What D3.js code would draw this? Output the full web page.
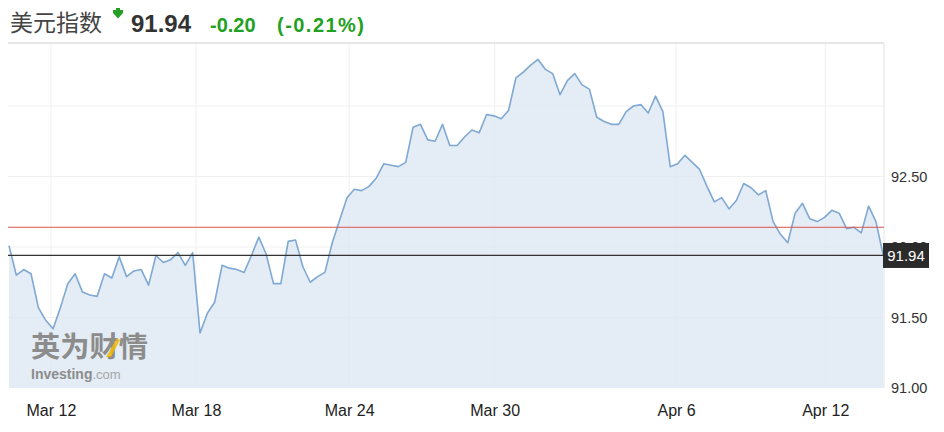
<!DOCTYPE html>
<html><head><meta charset="utf-8">
<script src="https://cdn.jsdelivr.net/npm/d3@7"></script>
<style>
html,body{margin:0;padding:0;background:#fff;}
svg{display:block;font-family:"Liberation Sans",Arial,sans-serif;}
</style></head>
<body><svg id="c" width="944" height="432"></svg>
<script>
// ---- data ----
const title = "美元指数";
const lastValue = 91.94;
const prevClose = 92.14;
const change = "-0.20";
const changePct = "(-0.21%)";
const values = [
92.01,91.80,91.84,91.81,91.57,91.48,91.42,91.57,91.74,91.81,
91.68,91.66,91.65,91.81,91.78,91.93,91.79,91.83,91.84,91.73,
91.94,91.89,91.91,91.96,91.87,91.96,91.39,91.53,91.61,91.87,
91.85,91.84,91.82,91.94,92.07,91.95,91.74,91.74,92.04,92.05,
91.86,91.75,91.79,91.82,92.03,92.19,92.35,92.41,92.40,92.43,
92.49,92.59,92.58,92.57,92.60,92.85,92.87,92.76,92.75,92.87,
92.72,92.72,92.78,92.83,92.81,92.94,92.93,92.91,92.97,93.20,
93.24,93.29,93.33,93.26,93.23,93.08,93.18,93.23,93.15,93.12,
92.92,92.89,92.87,92.87,92.96,93.00,93.01,92.95,93.07,92.96,
92.57,92.59,92.65,92.60,92.55,92.43,92.32,92.35,92.27,92.33,
92.45,92.42,92.37,92.40,92.18,92.09,92.03,92.24,92.31,92.20,
92.18,92.21,92.26,92.24,92.13,92.14,92.10,92.29,92.18,91.94
];
const tickLabels = ["Mar 12","Mar 18","Mar 24","Mar 30","Apr 6","Apr 12"];
const tickIdx = [5.7, 25.45, 46.3, 66.1, 90.8, 111.1];
const yTicks = [91.00, 91.50, 92.00, 92.50];
const yGrid = [91.50, 92.00, 92.50, 93.00];

// ---- layout ----
const svg = d3.select("#c");
const plot = {left: 8, right: 884, top: 43, bottom: 388};
const x = d3.scaleLinear().domain([0, values.length - 1]).range([9, 883.3]);
const y = d3.scaleLinear().domain([91, 93]).range([388, 106]);

// header
const hdr = svg.append("g");
hdr.append("text").attr("x", 10).attr("y", 31).attr("font-size", 23)
  .attr("font-family", "'Noto Sans CJK SC',sans-serif").attr("fill", "#444").text(title);
hdr.append("path").attr("d", "M113,10 L123,10 L123,13 L118,18.5 L113,13 Z").attr("fill", "#23a023");
hdr.append("path").attr("d", "M116,8 L120,8 L120,11 L116,11 Z").attr("fill", "#23a023");
hdr.append("text").attr("x", 131).attr("y", 31.5).attr("font-size", 24).attr("font-weight", "bold")
  .attr("fill", "#333").text(d3.format(".2f")(lastValue));
hdr.append("text").attr("x", 210).attr("y", 31.5).attr("font-size", 20).attr("font-weight", "bold")
  .attr("fill", "#22a022").text(change);
hdr.append("text").attr("x", 277).attr("y", 31.5).attr("font-size", 20).attr("font-weight", "bold")
  .attr("fill", "#22a022").attr("textLength", 87).attr("lengthAdjust", "spacing").text(changePct);

// plot frame
svg.append("rect").attr("x", plot.left).attr("y", plot.top).attr("width", plot.right - plot.left)
  .attr("height", plot.bottom - plot.top).attr("fill", "#fff");

// grid
svg.append("g").selectAll("line").data(yGrid).join("line")
  .attr("x1", plot.left).attr("x2", plot.right).attr("y1", d => y(d)).attr("y2", d => y(d))
  .attr("stroke", "#f0f0f0").attr("stroke-width", 1);
svg.append("g").selectAll("line").data(tickIdx).join("line")
  .attr("x1", d => x(d)).attr("x2", d => x(d)).attr("y1", plot.top).attr("y2", plot.bottom)
  .attr("stroke", "#f0f0f0").attr("stroke-width", 1);

// area + line
const area = d3.area().x((d, i) => x(i)).y0(plot.bottom).y1(d => y(d));
const line = d3.line().x((d, i) => x(i)).y(d => y(d));
svg.append("path").datum(values).attr("d", area).attr("fill", "#dde7f3").attr("fill-opacity", 0.8);
svg.append("path").datum(values).attr("d", line).attr("fill", "none")
  .attr("stroke", "#7fa8d3").attr("stroke-width", 1.6).attr("stroke-linejoin", "round");

// borders top & right
svg.append("line").attr("x1", plot.left).attr("x2", plot.right).attr("y1", plot.top).attr("y2", plot.top)
  .attr("stroke", "#e6e6e6").attr("stroke-width", 2);
svg.append("line").attr("x1", plot.right).attr("x2", plot.right).attr("y1", plot.top).attr("y2", plot.bottom)
  .attr("stroke", "#ececec").attr("stroke-width", 1.5);

// watermark
const wm = svg.append("g");
wm.append("text").attr("x", 31).attr("y", 357).attr("font-size", 28).attr("font-weight", "bold")
  .attr("font-family", "'Noto Sans CJK SC',sans-serif").attr("fill", "#8c8c8c")
  .attr("textLength", 117).attr("lengthAdjust", "spacingAndGlyphs").text("英为财情");
wm.append("path").attr("d", "M106,357 L117,338 L120,340 L111,357 Z").attr("fill", "#f2b705").attr("opacity", 0.85);
const inv = wm.append("text").attr("x", 31).attr("y", 379).attr("font-size", 14).attr("fill", "#8c8c8c");
inv.append("tspan").attr("font-weight", "bold").text("Investing");
inv.append("tspan").attr("fill", "#a6a6a6").attr("font-size", 13).text(".com");

// reference lines
svg.append("line").attr("x1", plot.left).attr("x2", plot.right).attr("y1", y(prevClose)).attr("y2", y(prevClose))
  .attr("stroke", "#d9534f").attr("stroke-width", 1.2);

// y axis
const yAxis = d3.axisRight(y).tickValues(yTicks).tickSize(0).tickPadding(0).tickFormat(d3.format(".2f"));
const yg = svg.append("g").attr("transform", `translate(891,0)`).call(yAxis);
yg.select(".domain").remove();
yg.selectAll("text").attr("font-size", 14.5).attr("fill", "#333").attr("font-family", "'Liberation Sans',Arial,sans-serif");

svg.append("line").attr("x1", plot.left).attr("x2", plot.right).attr("y1", y(lastValue)).attr("y2", y(lastValue))
  .attr("stroke", "#333").attr("stroke-width", 1.3);

// last value badge
svg.append("rect").attr("x", 883).attr("y", y(lastValue) - 12.5).attr("width", 46).attr("height", 25).attr("fill", "#2b2b2b");
svg.append("text").attr("x", 906).attr("y", y(lastValue) + 5.5).attr("text-anchor", "middle")
  .attr("font-size", 15).attr("fill", "#fff").text(d3.format(".2f")(lastValue));

// x axis
const xAxis = d3.axisBottom(x).tickValues(tickIdx).tickSize(0).tickPadding(0)
  .tickFormat((d, i) => tickLabels[i]);
const xg = svg.append("g").attr("transform", `translate(0,405)`).call(xAxis);
xg.select(".domain").remove();
xg.selectAll("text").attr("font-size", 16).attr("fill", "#222").attr("dy", "0.71em")
  .attr("font-family", "'Liberation Sans',Arial,sans-serif");
</script></body></html>
